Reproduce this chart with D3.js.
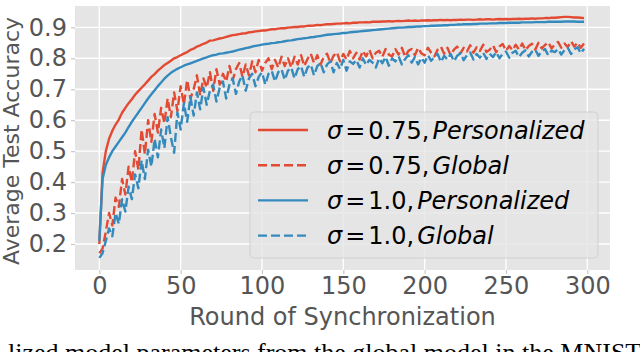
<!DOCTYPE html>
<html>
<head>
<meta charset="utf-8">
<script src="https://cdn.jsdelivr.net/npm/d3@7"></script>
<style>
  body { margin: 0; background: #fff; }
  svg { display: block; }
</style>
</head>
<body>
<script>
// rounds are logged every 2 rounds
const rounds = d3.range(0, 300, 2);

const persSigma075 = [
  0.200, 0.430, 0.500, 0.540, 0.566, 0.586, 0.602, 0.624, 0.640, 0.655,
  0.668, 0.682, 0.694, 0.705, 0.716, 0.728, 0.740, 0.749, 0.760, 0.769,
  0.778, 0.785, 0.792, 0.800, 0.804, 0.810, 0.815, 0.820, 0.827, 0.831,
  0.838, 0.842, 0.847, 0.851, 0.857, 0.858, 0.861, 0.864, 0.866, 0.869,
  0.872, 0.875, 0.876, 0.878, 0.880, 0.881, 0.884, 0.885, 0.887, 0.888,
  0.890, 0.890, 0.892, 0.894, 0.894, 0.896, 0.897, 0.897, 0.899, 0.900,
  0.901, 0.901, 0.903, 0.903, 0.905, 0.905, 0.906, 0.908, 0.907, 0.909,
  0.910, 0.910, 0.911, 0.912, 0.912, 0.913, 0.914, 0.913, 0.915, 0.915,
  0.916, 0.916, 0.917, 0.916, 0.918, 0.918, 0.918, 0.919, 0.919, 0.920,
  0.919, 0.920, 0.921, 0.920, 0.921, 0.922, 0.921, 0.922, 0.921, 0.922,
  0.922, 0.923, 0.922, 0.923, 0.923, 0.924, 0.923, 0.924, 0.923, 0.924,
  0.924, 0.925, 0.924, 0.925, 0.925, 0.924, 0.925, 0.926, 0.925, 0.926,
  0.926, 0.925, 0.926, 0.927, 0.926, 0.927, 0.926, 0.927, 0.927, 0.928,
  0.927, 0.928, 0.928, 0.929, 0.928, 0.929, 0.929, 0.930, 0.930, 0.931,
  0.931, 0.932, 0.933, 0.934, 0.934, 0.933, 0.932, 0.932, 0.931, 0.930
];

const globalSigma075 = [
  0.170, 0.185, 0.240, 0.300, 0.260, 0.350, 0.320, 0.410, 0.360, 0.450,
  0.400, 0.500, 0.440, 0.570, 0.490, 0.600, 0.530, 0.620, 0.560, 0.640,
  0.590, 0.670, 0.610, 0.690, 0.630, 0.710, 0.650, 0.730, 0.670, 0.700,
  0.745, 0.680, 0.735, 0.705, 0.755, 0.695, 0.765, 0.715, 0.750, 0.725,
  0.775, 0.730, 0.765, 0.785, 0.740, 0.780, 0.745, 0.790, 0.755, 0.795,
  0.760, 0.785, 0.800, 0.765, 0.795, 0.770, 0.805, 0.775, 0.800, 0.770,
  0.805, 0.780, 0.810, 0.775, 0.798, 0.815, 0.785, 0.810, 0.780, 0.805,
  0.815, 0.785, 0.808, 0.820, 0.790, 0.814, 0.796, 0.824, 0.800, 0.818,
  0.796, 0.824, 0.806, 0.828, 0.800, 0.818, 0.824, 0.805, 0.830, 0.812,
  0.806, 0.830, 0.812, 0.834, 0.805, 0.824, 0.830, 0.810, 0.834, 0.816,
  0.810, 0.834, 0.818, 0.806, 0.828, 0.838, 0.815, 0.834, 0.810, 0.828,
  0.838, 0.816, 0.834, 0.822, 0.842, 0.818, 0.836, 0.824, 0.844, 0.820,
  0.828, 0.842, 0.820, 0.838, 0.846, 0.824, 0.840, 0.826, 0.844, 0.828,
  0.848, 0.826, 0.840, 0.847, 0.828, 0.850, 0.832, 0.843, 0.852, 0.832,
  0.845, 0.853, 0.834, 0.848, 0.836, 0.855, 0.838, 0.851, 0.834, 0.848
];

const persSigma10 = [
  0.210, 0.410, 0.455, 0.480, 0.500, 0.515, 0.530, 0.545, 0.560, 0.578,
  0.595, 0.610, 0.625, 0.640, 0.655, 0.670, 0.684, 0.697, 0.710, 0.722,
  0.734, 0.744, 0.753, 0.760, 0.766, 0.771, 0.776, 0.780, 0.784, 0.788,
  0.792, 0.796, 0.800, 0.803, 0.807, 0.810, 0.812, 0.815, 0.816, 0.818,
  0.820, 0.822, 0.825, 0.828, 0.830, 0.833, 0.835, 0.838, 0.840, 0.842,
  0.844, 0.846, 0.847, 0.849, 0.850, 0.852, 0.853, 0.855, 0.857, 0.858,
  0.860, 0.862, 0.863, 0.865, 0.866, 0.868, 0.869, 0.871, 0.872, 0.874,
  0.876, 0.877, 0.878, 0.879, 0.880, 0.882, 0.882, 0.884, 0.885, 0.886,
  0.887, 0.888, 0.889, 0.890, 0.891, 0.892, 0.893, 0.894, 0.895, 0.896,
  0.897, 0.898, 0.899, 0.899, 0.900, 0.901, 0.901, 0.902, 0.903, 0.903,
  0.904, 0.904, 0.905, 0.905, 0.906, 0.906, 0.907, 0.907, 0.908, 0.908,
  0.909, 0.909, 0.910, 0.910, 0.910, 0.911, 0.911, 0.912, 0.912, 0.912,
  0.913, 0.913, 0.913, 0.914, 0.914, 0.914, 0.915, 0.915, 0.915, 0.915,
  0.916, 0.916, 0.916, 0.916, 0.917, 0.917, 0.917, 0.917, 0.918, 0.918,
  0.918, 0.918, 0.918, 0.919, 0.919, 0.919, 0.919, 0.918, 0.918, 0.918
];

const globalSigma10 = [
  0.155, 0.170, 0.210, 0.250, 0.225, 0.300, 0.265, 0.345, 0.305, 0.385,
  0.345, 0.425, 0.380, 0.470, 0.410, 0.505, 0.450, 0.540, 0.480, 0.570,
  0.510, 0.610, 0.545, 0.495, 0.625, 0.570, 0.655, 0.595, 0.675, 0.615,
  0.690, 0.635, 0.705, 0.650, 0.695, 0.715, 0.660, 0.705, 0.725, 0.670,
  0.715, 0.735, 0.685, 0.725, 0.745, 0.695, 0.735, 0.750, 0.710, 0.740,
  0.755, 0.715, 0.750, 0.760, 0.725, 0.755, 0.765, 0.730, 0.760, 0.770,
  0.735, 0.765, 0.775, 0.740, 0.770, 0.780, 0.745, 0.775, 0.785, 0.755,
  0.780, 0.790, 0.755, 0.785, 0.765, 0.795, 0.760, 0.790, 0.782, 0.795,
  0.770, 0.800, 0.778, 0.795, 0.786, 0.770, 0.800, 0.784, 0.805, 0.776,
  0.800, 0.790, 0.806, 0.780, 0.798, 0.810, 0.786, 0.804, 0.780, 0.802,
  0.786, 0.810, 0.792, 0.804, 0.814, 0.788, 0.808, 0.796, 0.814, 0.790,
  0.808, 0.816, 0.794, 0.810, 0.819, 0.796, 0.814, 0.802, 0.818, 0.798,
  0.815, 0.804, 0.820, 0.800, 0.815, 0.822, 0.802, 0.818, 0.824, 0.804,
  0.818, 0.826, 0.806, 0.821, 0.828, 0.808, 0.823, 0.830, 0.810, 0.825,
  0.820, 0.830, 0.812, 0.827, 0.834, 0.814, 0.829, 0.836, 0.816, 0.831
];

const xTicks = [0, 50, 100, 150, 200, 250, 300];
const yTicks = [0.2, 0.3, 0.4, 0.5, 0.6, 0.7, 0.8, 0.9];

const series = [
  { sigma: "0.75", kind: "Personalized", values: persSigma075, color: "#E24A33", dash: null },
  { sigma: "0.75", kind: "Global", values: globalSigma075, color: "#E24A33", dash: "9,4" },
  { sigma: "1.0", kind: "Personalized", values: persSigma10, color: "#348ABD", dash: null },
  { sigma: "1.0", kind: "Global", values: globalSigma10, color: "#348ABD", dash: "9,4" }
];

const W = 640, H = 352;
const plot = { left: 75, right: 610, top: 6, bottom: 270 };
const font = "DejaVu Sans";

const svg = d3.select("body").append("svg")
  .attr("width", W).attr("height", H);

const x = d3.scaleLinear().domain([-14.95, 313.95]).range([plot.left, plot.right]);
const y = d3.scaleLinear().domain([0.116, 0.969]).range([plot.bottom, plot.top]);

// axes background
svg.append("rect")
  .attr("x", plot.left).attr("y", plot.top)
  .attr("width", plot.right - plot.left).attr("height", plot.bottom - plot.top)
  .attr("fill", "#E5E5E5");

// grid
const grid = svg.append("g").attr("stroke", "#fff").attr("stroke-width", 1.4);
grid.selectAll(".gx").data(xTicks).enter().append("line")
  .attr("x1", d => x(d)).attr("x2", d => x(d))
  .attr("y1", plot.top).attr("y2", plot.bottom);
grid.selectAll(".gy").data(yTicks).enter().append("line")
  .attr("x1", plot.left).attr("x2", plot.right)
  .attr("y1", d => y(d)).attr("y2", d => y(d));

// axes (ticks + labels)
const xAxis = svg.append("g")
  .attr("transform", `translate(0,${plot.bottom})`)
  .call(d3.axisBottom(x).tickValues(xTicks).tickSize(4).tickPadding(3));
const yAxis = svg.append("g")
  .attr("transform", `translate(${plot.left},0)`)
  .call(d3.axisLeft(y).tickValues(yTicks).tickFormat(d3.format(".1f")).tickSize(4).tickPadding(4));

[xAxis, yAxis].forEach(a => {
  a.select(".domain").remove();
  a.selectAll(".tick line").attr("stroke", "#c8c8c8").attr("stroke-width", 1.2);
  a.selectAll(".tick text")
    .attr("fill", "#555")
    .style("font-family", font)
    .style("font-size", "24px");
});

// lines
const line = d3.line()
  .x((d, i) => x(rounds[i]))
  .y(d => y(d));

svg.append("clipPath").attr("id", "clip").append("rect")
  .attr("x", plot.left).attr("y", plot.top)
  .attr("width", plot.right - plot.left).attr("height", plot.bottom - plot.top);

svg.append("g").attr("clip-path", "url(#clip)")
  .selectAll("path")
  .data(series)
  .enter().append("path")
  .attr("d", d => line(d.values))
  .attr("fill", "none")
  .attr("stroke", d => d.color)
  .attr("stroke-width", 2.4)
  .attr("stroke-dasharray", d => d.dash)
  .attr("stroke-linejoin", "round");

// axis titles
svg.append("text")
  .attr("x", (plot.left + plot.right) / 2).attr("y", 325)
  .attr("text-anchor", "middle")
  .attr("fill", "#555")
  .style("font-family", font).style("font-size", "24px")
  .text("Round of Synchronization");

svg.append("text")
  .attr("transform", `translate(19,141) rotate(-90)`)
  .attr("text-anchor", "middle")
  .attr("fill", "#555")
  .style("font-family", font).style("font-size", "22px")
  .text("Average Test Accuracy");

// legend
const legend = svg.append("g");
legend.append("rect")
  .attr("x", 250).attr("y", 112).attr("width", 348).attr("height", 146)
  .attr("rx", 4)
  .attr("fill", "#E5E5E5").attr("fill-opacity", 0.8)
  .attr("stroke", "#cccccc").attr("stroke-opacity", 0.8);

const item = legend.selectAll(".item")
  .data(series)
  .enter().append("g")
  .attr("transform", (d, i) => `translate(0,${130 + i * 35.2})`);

item.append("line")
  .attr("x1", 258).attr("x2", 308)
  .attr("stroke", d => d.color)
  .attr("stroke-width", 2.4)
  .attr("stroke-dasharray", d => d.dash);

const label = item.append("text")
  .attr("x", 327).attr("y", 8.5)
  .attr("fill", "#000")
  .style("font-family", font).style("font-size", "24px");
label.append("tspan").style("font-style", "italic").text("σ");
label.append("tspan").attr("dx", 3).text("=");
label.append("tspan").attr("dx", 3).text(d => d.sigma + ",");
label.append("tspan").attr("dx", 3).style("font-style", "italic").text(d => d.kind);

// caption fragment cut off at the bottom of the figure, as in the source
svg.append("text")
  .attr("x", 8).attr("y", 361)
  .attr("fill", "#000")
  .style("font-family", "Liberation Serif").style("font-size", "26px")
  .text("lized model parameters from the global model in the MNIST");
</script>
</body>
</html>
